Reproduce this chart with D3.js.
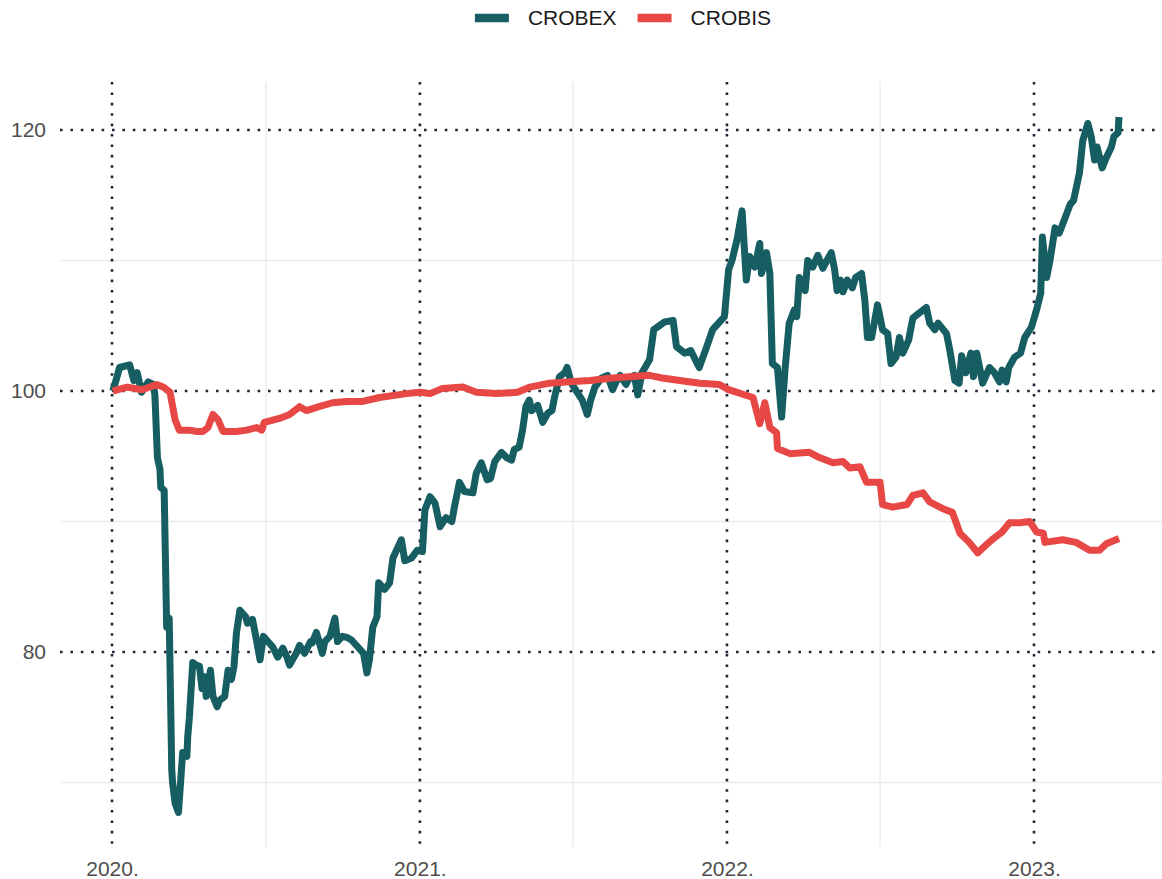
<!DOCTYPE html>
<html>
<head>
<meta charset="utf-8">
<script src="https://cdn.jsdelivr.net/npm/d3@7"></script>
<style>
  body { margin: 0; background: #fff; }
  svg { display: block; font-family: "Liberation Sans", Arial, sans-serif; }
</style>
</head>
<body>
<div id="chart"></div>
<script>

// data
const seriesNames = ['CROBEX', 'CROBIS'];
const seriesColors = ['#175e62', '#e84845'];

const crobexDates = [
  '2020-01-02','2020-01-07','2020-01-10','2020-01-22','2020-01-27','2020-01-31','2020-02-05','2020-02-13',
  '2020-02-19','2020-02-21','2020-02-24','2020-02-27','2020-02-28','2020-03-03','2020-03-06','2020-03-09',
  '2020-03-11','2020-03-12','2020-03-13','2020-03-16','2020-03-20','2020-03-25','2020-03-30','2020-03-31',
  '2020-04-02','2020-04-06','2020-04-10','2020-04-14','2020-04-17','2020-04-20','2020-04-22','2020-04-27',
  '2020-04-30','2020-05-05','2020-05-08','2020-05-14','2020-05-18','2020-05-22','2020-05-25','2020-05-28',
  '2020-06-01','2020-06-08','2020-06-10','2020-06-16','2020-06-19','2020-06-25','2020-06-29','2020-07-03',
  '2020-07-10','2020-07-16','2020-07-22','2020-07-27','2020-07-30','2020-08-07','2020-08-11','2020-08-17',
  '2020-08-24','2020-08-26','2020-08-31','2020-09-07','2020-09-10','2020-09-16','2020-09-22','2020-09-25',
  '2020-10-01','2020-10-07','2020-10-12','2020-10-19','2020-10-26','2020-10-30','2020-11-02','2020-11-06',
  '2020-11-11','2020-11-13','2020-11-20','2020-11-26','2020-11-30','2020-12-10','2020-12-14','2020-12-22',
  '2020-12-29','2021-01-04','2021-01-07','2021-01-13','2021-01-19','2021-01-25','2021-02-01','2021-02-08',
  '2021-02-11','2021-02-17','2021-02-23','2021-03-05','2021-03-09','2021-03-15','2021-03-22','2021-03-26',
  '2021-03-31','2021-04-08','2021-04-14','2021-04-20','2021-04-23','2021-04-29','2021-05-03','2021-05-07',
  '2021-05-11','2021-05-14','2021-05-21','2021-05-27','2021-06-02','2021-06-07','2021-06-10','2021-06-16',
  '2021-06-22','2021-06-25','2021-06-30','2021-07-07','2021-07-13','2021-07-19','2021-07-23','2021-07-28',
  '2021-08-05','2021-08-12','2021-08-18','2021-08-23','2021-08-27','2021-09-03','2021-09-07','2021-09-13',
  '2021-09-17','2021-09-22','2021-10-01','2021-10-06','2021-10-19','2021-10-29','2021-11-02','2021-11-12',
  '2021-11-19','2021-11-29','2021-12-08','2021-12-15','2021-12-22','2021-12-29','2022-01-03','2022-01-07',
  '2022-01-13','2022-01-19','2022-01-24','2022-01-28','2022-02-03','2022-02-09','2022-02-11','2022-02-17',
  '2022-02-21','2022-02-24','2022-03-02','2022-03-07','2022-03-11','2022-03-16','2022-03-22','2022-03-25',
  '2022-03-28','2022-04-04','2022-04-07','2022-04-13','2022-04-19','2022-04-25','2022-04-29','2022-05-05',
  '2022-05-09','2022-05-12','2022-05-16','2022-05-19','2022-05-24','2022-05-30','2022-06-03','2022-06-10',
  '2022-06-14','2022-06-17','2022-06-22','2022-06-27','2022-06-29','2022-07-05','2022-07-11','2022-07-15',
  '2022-07-21','2022-07-25','2022-07-29','2022-08-05','2022-08-10','2022-08-18','2022-08-26','2022-08-30',
  '2022-09-05','2022-09-09','2022-09-19','2022-09-23','2022-09-29','2022-10-04','2022-10-07','2022-10-12',
  '2022-10-18','2022-10-21','2022-10-25','2022-11-01','2022-11-09','2022-11-15','2022-11-21','2022-11-24',
  '2022-11-29','2022-12-02','2022-12-09','2022-12-16','2022-12-21','2022-12-29','2023-01-04','2023-01-09',
  '2023-01-11','2023-01-16','2023-01-20','2023-01-26','2023-01-31','2023-02-06','2023-02-13','2023-02-17',
  '2023-02-24','2023-02-28','2023-03-06','2023-03-10','2023-03-14','2023-03-17','2023-03-23','2023-03-28',
  '2023-04-03','2023-04-06','2023-04-11','2023-04-12'
];
const crobexValues = [
  100.0,101.1,101.8,102.0,100.8,101.4,99.9,100.7,
  100.5,99.7,94.9,94.0,92.6,92.4,81.9,82.6,
  75.0,71.0,70.0,68.4,67.7,72.3,72.0,73.5,
  75.0,79.2,79.0,78.9,77.2,78.1,76.6,78.6,
  76.6,75.8,76.3,76.6,78.6,77.9,78.9,81.5,
  83.2,82.7,82.2,82.5,81.5,79.4,81.2,80.9,
  80.4,79.6,80.3,79.6,79.0,79.9,80.5,79.9,
  80.8,80.7,81.5,79.9,80.8,81.2,82.6,80.8,
  81.2,81.1,80.9,80.4,79.9,78.4,79.4,81.9,
  82.7,85.3,84.8,85.3,87.2,88.6,87.0,87.2,
  87.8,87.7,90.9,91.9,91.4,89.6,90.3,90.0,
  91.1,93.0,92.3,92.2,93.7,94.5,93.2,93.3,
  94.6,95.3,94.9,94.7,95.5,95.7,97.0,98.8,
  99.3,98.5,98.9,97.6,98.3,98.5,99.5,101.1,
  101.4,101.8,100.6,99.9,99.3,98.2,99.3,100.3,
  101.0,101.2,100.1,100.8,101.2,100.5,101.0,101.2,
  99.7,101.4,102.4,104.7,105.3,105.4,103.4,102.9,
  103.1,101.8,103.4,104.7,105.2,105.7,109.3,110.0,
  111.6,113.8,108.5,110.3,109.5,111.3,109.0,110.6,
  109.0,102.1,101.8,98.0,101.6,105.2,106.2,105.7,
  108.7,107.7,110.0,109.5,110.4,109.4,109.9,110.6,
  109.3,107.7,108.5,107.6,108.5,107.9,108.7,109.0,
  106.9,104.1,104.1,105.9,106.6,104.7,104.4,102.1,
  102.6,104.1,102.9,103.9,105.6,106.0,106.4,105.2,
  104.7,105.2,104.4,103.1,100.8,100.6,102.7,101.4,
  102.9,101.1,102.9,100.6,101.8,101.4,100.7,101.6,
  100.7,101.8,102.6,102.9,104.1,104.9,106.2,107.5,
  111.8,108.7,110.0,112.5,112.1,113.1,114.3,114.6,
  116.7,119.2,120.5,119.5,117.7,118.7,117.1,117.9,
  118.7,119.5,119.8,121.0
];

const crobisDates = [
  '2020-01-02','2020-01-19','2020-02-06','2020-02-23','2020-03-02','2020-03-10','2020-03-16','2020-03-21',
  '2020-04-02','2020-04-11','2020-04-18','2020-04-24','2020-04-30','2020-05-06','2020-05-12','2020-05-28',
  '2020-06-09','2020-06-21','2020-06-27','2020-06-30','2020-07-18','2020-07-30','2020-08-11','2020-08-19',
  '2020-09-03','2020-09-19','2020-10-06','2020-10-25','2020-11-14','2020-12-16','2021-01-01','2021-01-13',
  '2021-01-28','2021-02-21','2021-03-09','2021-04-02','2021-04-27','2021-05-12','2021-06-04','2021-06-28',
  '2021-07-22','2021-08-18','2021-09-07','2021-10-01','2021-10-16','2021-11-06','2021-11-30','2021-12-23',
  '2022-01-03','2022-02-01','2022-02-09','2022-02-15','2022-02-21','2022-03-01','2022-03-02','2022-03-17',
  '2022-04-09','2022-04-21','2022-05-07','2022-05-19','2022-05-27','2022-06-08','2022-06-16','2022-07-02',
  '2022-07-05','2022-07-17','2022-08-03','2022-08-10','2022-08-22','2022-08-30','2022-09-14','2022-09-26',
  '2022-10-05','2022-10-16','2022-10-26','2022-11-05','2022-11-12','2022-11-24','2022-12-03','2022-12-15',
  '2022-12-27','2023-01-04','2023-01-12','2023-01-14','2023-02-04','2023-02-20','2023-03-08','2023-03-20',
  '2023-03-28','2023-04-12'
];
const crobisValues = [
  100.0,100.3,100.1,100.5,100.3,99.9,97.8,97.0,
  97.0,96.9,96.9,97.2,98.2,97.8,96.9,96.9,
  97.0,97.2,97.0,97.6,97.9,98.2,98.8,98.5,
  98.8,99.1,99.2,99.2,99.5,99.8,99.9,99.8,
  100.2,100.3,99.9,99.8,99.9,100.3,100.6,100.7,
  100.8,101.0,101.1,101.2,101.0,100.8,100.6,100.5,
  100.1,99.5,97.5,99.1,97.2,96.8,95.6,95.2,
  95.3,94.9,94.5,94.6,94.1,94.2,93.0,93.0,
  91.3,91.1,91.3,92.0,92.2,91.5,91.0,90.7,
  89.1,88.4,87.6,88.2,88.6,89.2,89.9,89.9,
  90.0,89.2,89.1,88.4,88.6,88.4,87.8,87.8,
  88.3,88.7
];

const yTicks = [80, 100, 120];
const yMinorTicks = [70, 90, 110];
const xTicks = ['2020-01-01', '2021-01-01', '2022-01-01', '2023-01-01'];
const xTickLabels = ['2020.', '2021.', '2022.', '2023.'];
const xMinorTicks = ['2020-07-02', '2021-07-02', '2022-07-02'];

// layout
const width = 1162, height = 879;
const panel = {left: 60, right: 1162, top: 82, bottom: 847};
const fontSize = 21;

const parse = d3.utcParse('%Y-%m-%d');

const svg = d3.select('#chart')
    .append('svg')
    .attr('width', width)
    .attr('height', height);

const xScale = d3.scaleUtc()
    .domain([parse('2020-01-01'), parse('2023-01-01')])
    .range([112, 1034]);

const yScale = d3.scaleLinear()
    .domain([80, 120])
    .range([652, 130]);

// minor grid (light solid)
svg.append('g').selectAll('line')
    .data(yMinorTicks)
    .join('line')
    .attr('x1', panel.left).attr('x2', panel.right)
    .attr('y1', d => yScale(d)).attr('y2', d => yScale(d))
    .attr('stroke', '#ebebeb').attr('stroke-width', 1.4);

svg.append('g').selectAll('line')
    .data(xMinorTicks.map(parse))
    .join('line')
    .attr('x1', d => xScale(d)).attr('x2', d => xScale(d))
    .attr('y1', panel.top).attr('y2', panel.bottom)
    .attr('stroke', '#ebebeb').attr('stroke-width', 1.4);

// major grid (dotted)
const dotStyle = sel => sel
    .attr('stroke', '#1f2636')
    .attr('stroke-width', 2.6)
    .attr('stroke-dasharray', '2.6 7.8');

svg.append('g').selectAll('line')
    .data(yTicks)
    .join('line')
    .attr('x1', panel.left).attr('x2', panel.right)
    .attr('y1', d => yScale(d)).attr('y2', d => yScale(d))
    .call(dotStyle);

svg.append('g').selectAll('line')
    .data(xTicks.map(parse))
    .join('line')
    .attr('x1', d => xScale(d)).attr('x2', d => xScale(d))
    .attr('y1', panel.top).attr('y2', panel.bottom)
    .call(dotStyle);

// axes
const yAxis = d3.axisLeft(yScale)
    .tickValues(yTicks)
    .tickSize(0)
    .tickPadding(14);

const xAxis = d3.axisBottom(xScale)
    .tickValues(xTicks.map(parse))
    .tickFormat((d, i) => xTickLabels[i])
    .tickSize(0)
    .tickPadding(14);

svg.append('g')
    .attr('class', 'y-axis')
    .attr('transform', `translate(${panel.left},0)`)
    .call(yAxis);

svg.append('g')
    .attr('class', 'x-axis')
    .attr('transform', `translate(0,${panel.bottom})`)
    .call(xAxis);

svg.selectAll('.domain').remove();
svg.selectAll('.y-axis text, .x-axis text')
    .attr('font-size', fontSize)
    .attr('font-family', '"Liberation Sans", Arial, sans-serif')
    .attr('fill', '#4d4d4d');

// lines
const series = [
    {name: seriesNames[0], color: seriesColors[0],
     values: crobexDates.map((d, i) => ({date: parse(d), value: crobexValues[i]}))},
    {name: seriesNames[1], color: seriesColors[1],
     values: crobisDates.map((d, i) => ({date: parse(d), value: crobisValues[i]}))}
];

const line = d3.line()
    .x(d => xScale(d.date))
    .y(d => yScale(d.value));

svg.append('g').selectAll('path')
    .data(series)
    .join('path')
    .attr('fill', 'none')
    .attr('stroke', d => d.color)
    .attr('stroke-width', 7)
    .attr('stroke-linejoin', 'round')
    .attr('stroke-linecap', 'butt')
    .attr('d', d => line(d.values));

// legend (top, centered)
const legend = svg.append('g').attr('class', 'legend');
let offset = 0;
series.forEach(s => {
    const item = legend.append('g').attr('transform', `translate(${offset},0)`);
    item.append('line')
        .attr('x1', 0).attr('x2', 34)
        .attr('y1', 0).attr('y2', 0)
        .attr('stroke', s.color)
        .attr('stroke-width', 8.5);
    const t = item.append('text')
        .attr('x', 53)
        .attr('y', 0)
        .attr('dy', '0.35em')
        .attr('font-size', fontSize)
        .attr('fill', '#1a1a1a')
        .text(s.name);
    offset += 53 + t.node().getComputedTextLength() + 21;
});
const legendWidth = offset - 21;
legend.attr('transform', `translate(${(panel.left + panel.right) / 2 + 12 - legendWidth / 2},18)`);

</script>
</body>
</html>
